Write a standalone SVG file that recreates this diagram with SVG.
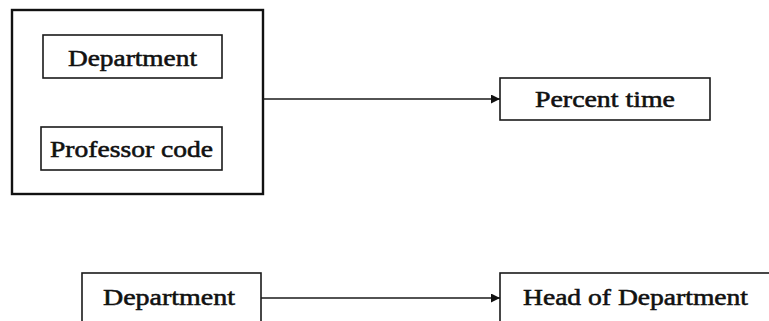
<svg xmlns="http://www.w3.org/2000/svg" width="769" height="321" viewBox="0 0 769 321">
<defs>
<style>
.box{fill:none;stroke:#1a1a1a;stroke-width:1.6}
.outer{fill:none;stroke:#111;stroke-width:2.4}
.lbl{font-family:"Liberation Serif","Times New Roman",serif;font-size:22.5px;fill:#111;text-anchor:middle;stroke:#111;stroke-width:0.55}
.conn{stroke:#1a1a1a;stroke-width:1.5;fill:none}
</style>
<marker id="arr" viewBox="0 0 10 10" refX="10" refY="5" markerWidth="11" markerHeight="9" markerUnits="userSpaceOnUse" orient="auto">
<path d="M0,0 L10,5 L0,10 Z" fill="#111"/>
</marker>
</defs>
<rect width="769" height="321" fill="#fff"/>
<g id="composite-key">
<rect class="outer" x="12" y="10" width="251" height="184"/>
</g>
<g id="department-1">
<rect class="box" x="43" y="35" width="179" height="43"/>
<text class="lbl" x="132.5" y="66" textLength="129" lengthAdjust="spacingAndGlyphs">Department</text>
</g>
<g id="professor-code">
<rect class="box" x="41" y="127" width="181" height="43"/>
<text class="lbl" x="131.5" y="157" textLength="163" lengthAdjust="spacingAndGlyphs">Professor code</text>
</g>
<g id="percent-time">
<rect class="box" x="500" y="78" width="210" height="42"/>
<text class="lbl" x="605" y="107" textLength="140" lengthAdjust="spacingAndGlyphs">Percent time</text>
</g>
<g id="department-2">
<rect class="box" x="82" y="273" width="179" height="60"/>
<text class="lbl" x="169" y="305" textLength="132" lengthAdjust="spacingAndGlyphs">Department</text>
</g>
<g id="head-of-department">
<rect class="box" x="500" y="273" width="290" height="60"/>
<text class="lbl" x="635.5" y="305" textLength="225" lengthAdjust="spacingAndGlyphs">Head of Department</text>
</g>
<g id="connectors">
<line class="conn" x1="263" y1="99" x2="500" y2="99" marker-end="url(#arr)"/>
<line class="conn" x1="261" y1="298" x2="500" y2="298" marker-end="url(#arr)"/>
</g>
</svg>
